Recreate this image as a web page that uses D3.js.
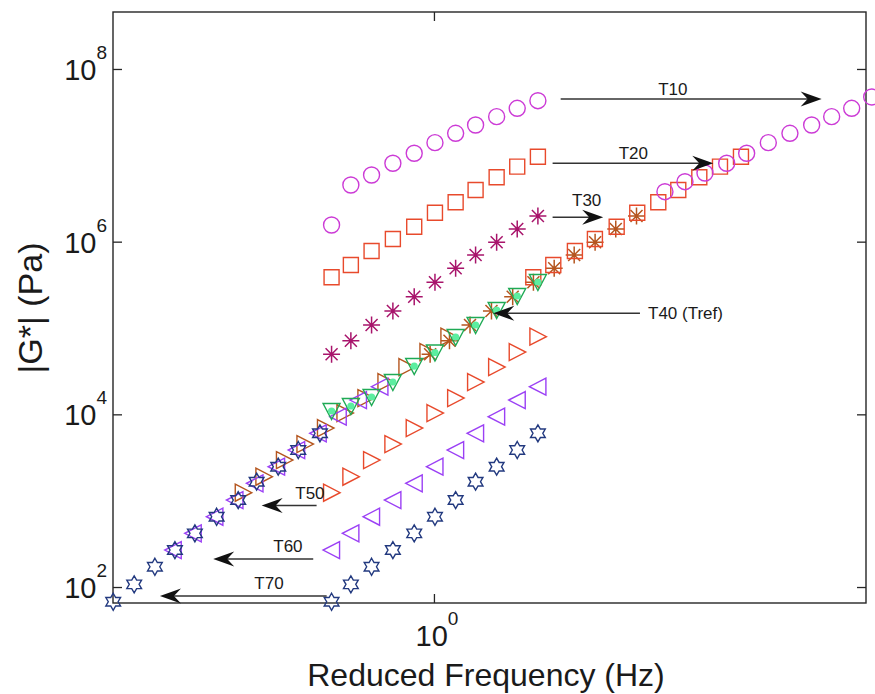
<!DOCTYPE html>
<html>
<head>
<meta charset="utf-8">
<script src="https://cdn.jsdelivr.net/npm/d3@7"></script>
<style>
	body { margin: 0; background: #fff; }
	text { font-family: "Liberation Sans", Arial, Helvetica, sans-serif; fill: #1a1a1a; }
</style>
</head>
<body>
<svg id="chart" width="875" height="694"></svg>
<script>

// measured frequencies (Hz), the same for every temperature
var freq = [0.606, 0.666, 0.737, 0.818, 0.908, 1.005, 1.112, 1.226, 1.359, 1.503, 1.663];

// |G*| (Pa) per temperature
var g10 = [1.56e6, 4.53e6, 5.92e6, 8.09e6, 1.056e7, 1.401e7, 1.80e7, 2.245e7, 2.803e7, 3.505e7, 4.293e7];
var g10s = [3.79e6, 4.95e6, 6.24e6, 8.09e6, 1.056e7, 1.401e7, 1.80e7, 2.245e7, 2.803e7, 3.505e7, 4.74e7];
var g20 = [3.87e5, 5.37e5, 7.79e5, 1.074e6, 1.491e6, 2.165e6, 2.857e6, 3.97e6, 5.57e6, 7.39e6, 9.64e6];
var g30 = [4.96e4, 7.13e4, 1.083e5, 1.573e5, 2.304e5, 3.383e5, 4.913e5, 7.01e5, 9.83e5, 1.402e6, 1.983e6];
var g40 = [1.093e4, 1.249e4, 1.587e4, 2.368e4, 3.627e4, 5.20e4, 7.86e4, 1.083e5, 1.616e5, 2.348e5, 3.41e5];
var g50 = [1236, 1894, 2957, 4531, 6943, 1.036e4, 1.545e4, 2.368e4, 3.533e4, 5.27e4, 7.93e4];
var g60 = [268.1, 418.6, 651.8, 1017, 1589, 2474, 3861, 6028, 9385, 1.465e4, 2.089e4];
var g70 = [67.5, 107.4, 171.7, 268.1, 418.6, 651.8, 1017, 1658, 2474, 3861, 6028];

// reduced frequencies (Hz) after shifting to Tref = T40
var f10s = [3.096, 3.415, 3.766, 4.188, 4.618, 5.134, 5.707, 6.347, 7.000, 7.720, 8.514];
var f20s = [1.626, 1.793, 1.993, 2.198, 2.445, 2.704, 2.997, 3.305, 3.663, 4.053, 4.491];
var f30s = [0.9815, 1.079, 1.193, 1.325, 1.470, 1.627, 1.801, 1.986, 2.200, 2.434, 2.694];
var f50s = [0.3934, 0.4352, 0.4812, 0.5320, 0.5882, 0.6470, 0.7169, 0.7907, 0.8762, 0.9711, 1.076];
var f60s = [0.2793, 0.3080, 0.3424, 0.3777, 0.4166, 0.4631, 0.5109, 0.5677, 0.6261, 0.6912, 0.7677];
var f70s = [0.2082, 0.2307, 0.2553, 0.2816, 0.3105, 0.3453, 0.3838, 0.4200, 0.4668, 0.5149, 0.5725];

// axis ranges and ticks
var xDomain = [0.208, 8.28];
var yDomain = [65.3, 4.57e8];
var xTicks = [1];
var yTicks = [1e2, 1e4, 1e6, 1e8];

// arrows: label, from, to (Hz), level (Pa), label position (Hz)
var arrowLabels = ["T10", "T20", "T30", "T40 (Tref)", "T50", "T60", "T70"];
var arrowFrom = [1.859, 1.787, 1.787, 2.740, 0.5632, 0.5540, 0.5916];
var arrowTo = [6.665, 3.922, 2.289, 1.337, 0.4304, 0.3396, 0.2617];
var arrowLevel = [4.49e7, 8.09e6, 1.915e6, 1.480e5, 878.7, 211, 78.6];
var labelAt = [3.219, 2.652, 2.111, 2.850, 0.5451, 0.4895, 0.4461];


var width = 875,
	height = 694,
	margin = {left: 113, right: 9, top: 12, bottom: 91};

var svg = d3.select("#chart");

var x = d3.scaleLog()
		.domain(xDomain)
		.range([margin.left, width - margin.right]);

var y = d3.scaleLog()
		.domain(yDomain)
		.range([height - margin.bottom, margin.top]);

var colors = {
	magenta: "#cc3bd6",
	orange: "#e84a2c",
	crimson: "#a8146b",
	brown: "#b5561f",
	green: "#1faa55",
	mint: "#5ceea0",
	purple: "#9b40f5",
	navy: "#22397f"
};

function hexagram(r) {
	var pts = [];
	for (var k = 0; k < 12; k++) {
		var a = (-90 + k * 30) * Math.PI / 180,
			rr = (k % 2 == 0) ? r : r / Math.sqrt(3);
		pts.push([rr * Math.cos(a), rr * Math.sin(a)]);
	}
	return "M" + pts.join("L") + "Z";
}

var shapes = {
	circle: "M8,0A8,8 0 1,1 -8,0A8,8 0 1,1 8,0Z",
	square: "M-7.5,-7.5H7.5V7.5H-7.5Z",
	asterisk: "M-8.5,0H8.5M0,-8.5V8.5M-6,-6L6,6M-6,6L6,-6",
	right: "M-8,-8.5L8.5,0L-8,8.5Z",
	left: "M8,-8.5L-8.5,0L8,8.5Z",
	down: "M-8.5,-7.5L8.5,-7.5L0,8.5Z",
	star: hexagram(8.5)
};

function drawSeries(fx, gy, shape, color) {
	var pts = fx.map(function(d, i) { return [d, gy[i]]; });

	svg.append("g")
		.selectAll("path")
		.data(pts)
		.enter().append("path")
		.attr("transform", function(d) {
			return "translate(" + x(d[0]) + "," + y(d[1]) + ")"; })
		.attr("d", shapes[shape])
		.attr("fill", "none")
		.attr("stroke", color)
		.attr("stroke-width", shape == "asterisk" ? 1.5 : 1.4)
		.attr("stroke-linejoin", "miter");
}

// frame
svg.append("rect")
	.attr("x", margin.left)
	.attr("y", margin.top)
	.attr("width", width - margin.left - margin.right)
	.attr("height", height - margin.top - margin.bottom)
	.attr("fill", "none")
	.attr("stroke", "#262626")
	.attr("stroke-width", 1.4);

// inward ticks on all four sides
function ticks(axis, tx, ty) {
	var g = svg.append("g")
		.attr("transform", "translate(" + tx + "," + ty + ")")
		.call(axis.tickSizeInner(-9).tickSizeOuter(0).tickFormat(""));
	g.select(".domain").remove();
	g.selectAll("line").attr("stroke", "#262626").attr("stroke-width", 1.3);
}

ticks(d3.axisLeft(y).tickValues(yTicks), margin.left, 0);
ticks(d3.axisRight(y).tickValues(yTicks), width - margin.right, 0);
ticks(d3.axisBottom(x).tickValues(xTicks), 0, height - margin.bottom);
ticks(d3.axisTop(x).tickValues(xTicks), 0, margin.top);

// tick labels as powers of ten
function power(sel, d) {
	sel.append("tspan").style("font-size", "29px").text("10");
	sel.append("tspan")
		.style("font-size", "19px")
		.attr("dy", -21)
		.text(Math.round(Math.log10(d)));
}

svg.append("g")
	.selectAll("text")
	.data(yTicks)
	.enter().append("text")
	.attr("x", margin.left - 6)
	.attr("y", function(d) { return y(d) + 11; })
	.attr("text-anchor", "end")
	.each(function(d) { power(d3.select(this), d); });

svg.append("g")
	.selectAll("text")
	.data(xTicks)
	.enter().append("text")
	.attr("x", function(d) { return x(d) + 3; })
	.attr("y", height - margin.bottom + 43)
	.attr("text-anchor", "middle")
	.each(function(d) { power(d3.select(this), d); });

// axis titles
svg.append("text")
	.attr("x", 486)
	.attr("y", 686)
	.attr("text-anchor", "middle")
	.style("font-size", "32px")
	.text("Reduced Frequency (Hz)");

svg.append("text")
	.attr("transform", "translate(42,308) rotate(-90)")
	.attr("text-anchor", "middle")
	.style("font-size", "34px")
	.text("|G*| (Pa)");

// shifted curves
drawSeries(f50s, g50, "right", colors.brown);
drawSeries(f60s, g60, "left", colors.purple);
drawSeries(f70s, g70, "star", colors.navy);
drawSeries(f30s, g30, "asterisk", colors.brown);
drawSeries(f20s, g20, "square", colors.orange);
drawSeries(f10s, g10s, "circle", colors.magenta);

// reference temperature: open triangles with a dot
drawSeries(freq, g40, "down", colors.green);
svg.append("g")
	.selectAll("circle")
	.data(freq)
	.enter().append("circle")
	.attr("cx", function(d) { return x(d); })
	.attr("cy", function(d, i) { return y(g40[i]); })
	.attr("r", 3.6)
	.attr("fill", colors.mint);

// measured curves
drawSeries(freq, g10, "circle", colors.magenta);
drawSeries(freq, g20, "square", colors.orange);
drawSeries(freq, g30, "asterisk", colors.crimson);
drawSeries(freq, g50, "right", colors.orange);
drawSeries(freq, g60, "left", colors.purple);
drawSeries(freq, g70, "star", colors.navy);

// shift arrows
arrowLabels.forEach(function(label, i) {
	var x1 = x(arrowFrom[i]),
		x2 = x(arrowTo[i]),
		ay = y(arrowLevel[i]),
		dir = x2 > x1 ? 1 : -1;

	svg.append("line")
		.attr("x1", x1).attr("x2", x2 - dir * 12)
		.attr("y1", ay).attr("y2", ay)
		.attr("stroke", "#333")
		.attr("stroke-width", 1.6);

	svg.append("path")
		.attr("d", "M" + x2 + "," + ay +
				   "L" + (x2 - dir * 21) + "," + (ay - 7.5) +
				   "L" + (x2 - dir * 14) + "," + ay +
				   "L" + (x2 - dir * 21) + "," + (ay + 7.5) + "Z")
		.attr("fill", "#111");

	var isRef = label.indexOf("Tref") > -1;
	svg.append("text")
		.attr("x", x(labelAt[i]))
		.attr("y", isRef ? ay + 6 : ay - (i == 2 ? 11 : (i < 2 ? 4.5 : 7)))
		.attr("text-anchor", isRef ? "start" : "middle")
		.style("font-size", "17px")
		.text(label);
});

</script>
</body>
</html>
